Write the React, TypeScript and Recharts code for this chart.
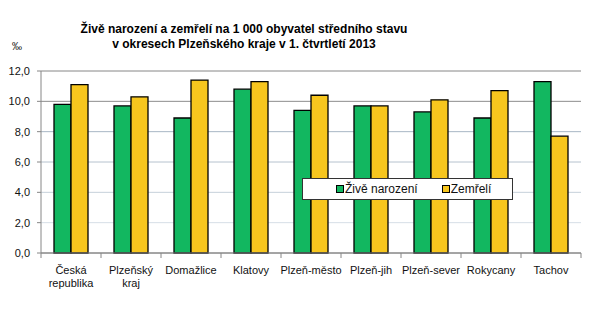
import React from "react";
import { Bar, BarChart, CartesianGrid, XAxis, YAxis } from "recharts";

const categories = [
  "Česká\nrepublika",
  "Plzeňský\nkraj",
  "Domažlice",
  "Klatovy",
  "Plzeň-město",
  "Plzeň-jih",
  "Plzeň-sever",
  "Rokycany",
  "Tachov",
];
const ziveNarozeni = [9.8, 9.7, 8.9, 10.8, 9.4, 9.7, 9.3, 8.9, 11.3];
const zemreli = [11.1, 10.3, 11.4, 11.3, 10.4, 9.7, 10.1, 10.7, 7.7];
const yTicks = [0, 2, 4, 6, 8, 10, 12];

const series = [
  { key: "zive", name: "Živě narození", color: "#12b760" },
  { key: "zemreli", name: "Zemřelí", color: "#f7c61e" },
];

const W = 592;
const H = 311;
const MARGIN = { top: 71, right: 11, left: 0, bottom: 0 };
const Y_W = 41;
const BAND = (W - MARGIN.left - MARGIN.right - Y_W) / categories.length;
const FONT = '"Liberation Sans", Arial, sans-serif';
const AXIS = "#868686";
const GRID = ["#868686", "#d6dee6", "#c6d0da", "#b6c2ce", "#a8b6c4", "#8c8c8c", "#868686"];

const data = categories.map((c, i) => ({
  cat: c,
  zive: ziveNarozeni[i],
  zemreli: zemreli[i],
}));

function XTick(props: any) {
  const { x, y, payload, index } = props;
  const lines = String(payload.value).split("\n");
  const half = BAND / 2;
  return (
    <g>
      <line x1={x - half} x2={x - half} y1={y} y2={y + 5} stroke={AXIS} />
      {index === categories.length - 1 && (
        <line x1={x + half} x2={x + half} y1={y} y2={y + 5} stroke={AXIS} />
      )}
      <text x={x} y={y + 21} textAnchor="middle" fontSize={11} fill="#111" fontFamily={FONT}>
        {lines.map((l, i) => (
          <tspan key={i} x={x} dy={i ? 12.5 : 0}>
            {l}
          </tspan>
        ))}
      </text>
    </g>
  );
}

function gridLine(props: any) {
  const { x1, x2, y1, y2, index } = props;
  return <line key={"g" + index} x1={x1} x2={x2} y1={y1} y2={y2} stroke={GRID[index] || "#b0bcc8"} />;
}

export default function App() {
  return (
    <div style={{ position: "absolute", left: 0, top: 0, width: W, height: H, background: "#fff", fontFamily: FONT }}>
      <div
        style={{
          position: "absolute",
          left: 0,
          width: 488,
          top: 22,
          textAlign: "center",
          fontWeight: "bold",
          fontSize: 12,
          lineHeight: "15px",
          color: "#000",
          whiteSpace: "pre",
        }}
      >
        {"Živě narození a zemřelí na 1 000 obyvatel středního stavu\nv okresech Plzeňského kraje v 1. čtvrtletí 2013"}
      </div>
      <div style={{ position: "absolute", left: 12, top: 41, fontSize: 10, color: "#111" }}>‰</div>
      <BarChart
        width={W}
        height={H}
        data={data}
        margin={MARGIN}
        barCategoryGap={13}
        barGap={0}
      >
        <CartesianGrid vertical={false} horizontal={gridLine} />
        <XAxis
          dataKey="cat"
          height={58}
          interval={0}
          axisLine={{ stroke: AXIS }}
          tickLine={false}
          tickSize={0}
          tickMargin={0}
          tick={<XTick />}
        />
        <YAxis
          width={Y_W}
          domain={[0, 12]}
          ticks={yTicks}
          axisLine={{ stroke: AXIS }}
          tickLine={{ stroke: AXIS }}
          tickSize={4}
          tickMargin={7}
          tick={{ fill: "#111", fontSize: 11, fontFamily: FONT }}
          tickFormatter={(v) => Number(v).toFixed(1).replace(".", ",")}
        />
        <YAxis
          yAxisId="r"
          orientation="right"
          width={0}
          domain={[0, 12]}
          axisLine={{ stroke: AXIS }}
          tick={false}
          tickLine={false}
        />
        {series.map((s) => (
          <Bar
            key={s.key}
            dataKey={s.key}
            name={s.name}
            fill={s.color}
            stroke="#000"
            strokeWidth={1.3}
            isAnimationActive={false}
          />
        ))}
      </BarChart>
      <div
        style={{
          position: "absolute",
          left: 302,
          top: 178,
          width: 176,
          height: 20,
          border: "1px solid #333",
          background: "#fff",
          display: "flex",
          alignItems: "center",
          paddingLeft: 33,
          boxSizing: "content-box",
          fontSize: 12,
          color: "#111",
        }}
      >
        {series.map((s, i) => (
          <div key={s.key} style={{ display: "flex", alignItems: "center", marginRight: i === 0 ? 24 : 0 }}>
            <span
              style={{
                display: "inline-block",
                width: 6,
                height: 6,
                background: s.color,
                border: "1px solid #000",
                marginRight: 1,
              }}
            />
            <span>{s.name}</span>
          </div>
        ))}
      </div>
    </div>
  );
}
